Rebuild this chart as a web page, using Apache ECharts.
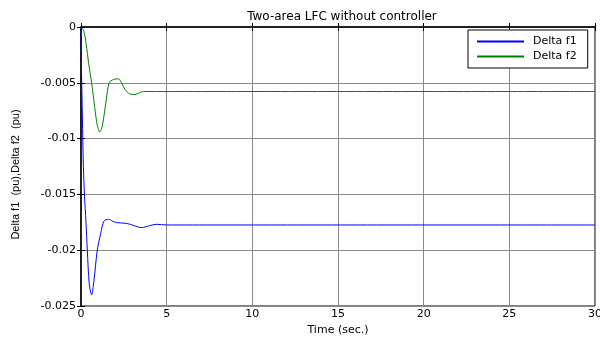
<!DOCTYPE html>
<html>
<head>
<meta charset="utf-8">
<script src="https://cdn.jsdelivr.net/npm/echarts@6/dist/echarts.min.js"></script>
<style>
  html, body { margin: 0; padding: 0; background: #fff; }
  #chart { width: 600px; height: 338px; }
</style>
</head>
<body>
<div id="chart"></div>
<script>
// time (s) and Delta f1 (pu)
var t1 = [0, 0.03, 0.08, 0.14, 0.2, 0.29, 0.37, 0.48, 0.62, 0.75, 0.95, 1.15, 1.34, 1.6, 1.85, 2.08, 2.67, 3.1, 3.54, 4.0, 4.42, 4.98, 30];
var f1 = [0, -0.004, -0.008, -0.0125, -0.015, -0.0175, -0.02, -0.023, -0.0240, -0.0228, -0.020, -0.0185, -0.0174, -0.01723, -0.0174, -0.01753, -0.0176, -0.0178, -0.01798, -0.0178, -0.01768, -0.01774, -0.01774];
// time (s) and Delta f2 (pu)
var t2 = [0, 0.15, 0.3, 0.45, 0.62, 0.8, 0.95, 1.1, 1.25, 1.45, 1.64, 1.9, 2.18, 2.4, 2.57, 2.85, 3.15, 3.4, 3.64, 30];
var f2 = [0, -0.0003, -0.0015, -0.0033, -0.005, -0.0072, -0.0088, -0.0094, -0.0088, -0.0068, -0.005, -0.0047, -0.00464, -0.0051, -0.0056, -0.0060, -0.00605, -0.0059, -0.00578, -0.00578];
var xTicks = [0, 5, 10, 15, 20, 25, 30];
var yTicks = [0, -0.005, -0.01, -0.015, -0.02, -0.025];

function pairs(t, v) {
  return t.map(function (x, i) { return [x, v[i]]; });
}

var myChart = echarts.init(document.getElementById('chart'));
var font = 'DejaVu Sans, Arial, sans-serif';

var option = {
  animation: false,
  title: {
    text: 'Two-area LFC without controller',
    left: 337,
    textAlign: 'center',
    top: 6,
    textStyle: { fontFamily: font, fontSize: 12, fontWeight: 'normal', color: '#000' }
  },
  legend: {
    orient: 'vertical',
    left: 468,
    top: 30,
    padding: [4, 11, 4, 9],
    itemGap: 0,
    itemWidth: 47,
    itemHeight: 2,
    icon: 'rect',
    borderColor: '#000',
    borderWidth: 1,
    borderRadius: 0,
    backgroundColor: '#fff',
    textStyle: { fontFamily: font, fontSize: 11, color: '#000', lineHeight: 15, padding: [0, 0, 0, 4] },
    data: ['Delta f1', 'Delta f2']
  },
  grid: {
    left: 81, right: 5, top: 27, bottom: 32,
    outerBoundsMode: 'none',
    show: true, borderColor: '#000', borderWidth: 1
  },
  xAxis: [{
    type: 'value',
    min: 0, max: 30, interval: 5,
    name: 'Time (sec.)',
    nameLocation: 'middle',
    nameGap: 17,
    nameTextStyle: { fontFamily: font, fontSize: 11, color: '#000' },
    axisLine: { lineStyle: { color: '#000', width: 1.5 } },
    axisTick: { inside: true, length: 4, lineStyle: { color: '#000' } },
    axisLabel: {
      fontFamily: font, fontSize: 11, color: '#000', margin: 3,
      formatter: function (v) { return xTicks.indexOf(v) >= 0 ? String(v) : ''; }
    },
    splitLine: { lineStyle: { color: '#8a8a8a', width: 1 } }
  }, {
    type: 'value', position: 'top',
    min: 0, max: 30, interval: 5,
    axisLine: { show: false },
    axisTick: { inside: true, length: 4, lineStyle: { color: '#000' } },
    axisLabel: { show: false },
    splitLine: { show: false }
  }],
  yAxis: [{
    type: 'value',
    min: -0.025, max: 0, interval: 0.005,
    name: 'Delta f1  (pu),Delta f2  (pu)',
    nameLocation: 'middle',
    nameGap: 60,
    nameTextStyle: { fontFamily: 'Liberation Sans, Arial, sans-serif', fontSize: 11, color: '#000', padding: [0, 16, 0, 0] },
    axisLine: { lineStyle: { color: '#000', width: 1.5 } },
    axisTick: { inside: true, length: 4, lineStyle: { color: '#000' } },
    axisLabel: {
      fontFamily: font, fontSize: 11, color: '#000', margin: 5,
      formatter: function (v) {
        var r = Math.round(v * 1000) / 1000;
        return yTicks.indexOf(r) >= 0 ? String(r) : '';
      }
    },
    splitLine: { lineStyle: { color: '#8a8a8a', width: 1 } }
  }, {
    type: 'value', position: 'right',
    min: -0.025, max: 0, interval: 0.005,
    axisLine: { show: false },
    axisTick: { inside: true, length: 4, lineStyle: { color: '#000' } },
    axisLabel: { show: false },
    splitLine: { show: false }
  }],
  series: [
    {
      name: 'Delta f1',
      type: 'line',
      data: pairs(t1, f1),
      smooth: 0.3,
      showSymbol: false,
      color: '#0000ff',
      lineStyle: { width: 1, color: '#0000ff' }
    },
    {
      name: 'Delta f2',
      type: 'line',
      data: pairs(t2, f2),
      smooth: 0.3,
      showSymbol: false,
      color: '#008000',
      lineStyle: { width: 1, color: '#008000' }
    }
  ]
};

myChart.setOption(option);
window.addEventListener('resize', function () {
  myChart.resize();
});
</script>
</body>
</html>
